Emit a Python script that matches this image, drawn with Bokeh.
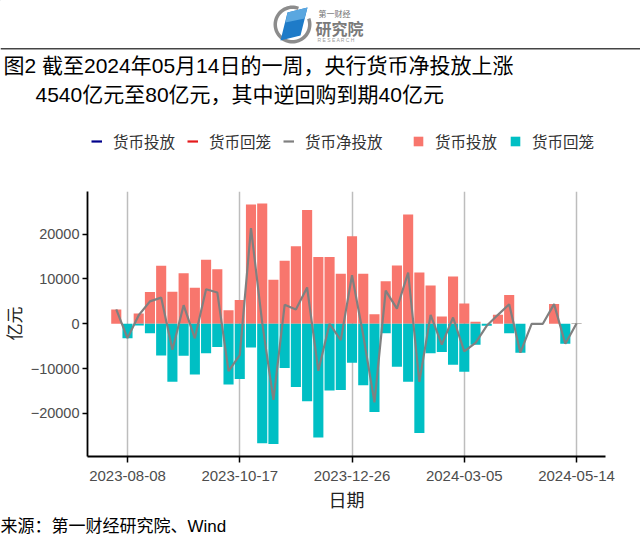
import math
import numpy as np
import pandas as pd
from bokeh.plotting import figure
from bokeh.layouts import column, row
from bokeh.models import (Range1d, FixedTicker, DatetimeTickFormatter, Label,
                          Legend, LegendItem, ColumnDataSource)
from bokeh.embed import file_html
from bokeh.resources import INLINE

# ---------------- data ----------------
weeks = ["2023-08-01", "2023-08-08", "2023-08-15", "2023-08-22", "2023-08-29",
         "2023-09-05", "2023-09-12", "2023-09-19", "2023-09-26", "2023-10-03",
         "2023-10-10", "2023-10-17", "2023-10-24", "2023-10-31", "2023-11-07",
         "2023-11-14", "2023-11-21", "2023-11-28", "2023-12-05", "2023-12-12",
         "2023-12-19", "2023-12-26", "2024-01-02", "2024-01-09", "2024-01-16",
         "2024-01-23", "2024-01-30", "2024-02-06", "2024-02-13", "2024-02-20",
         "2024-02-27", "2024-03-05", "2024-03-12", "2024-03-19", "2024-03-26",
         "2024-04-02", "2024-04-09", "2024-04-16", "2024-04-23", "2024-04-30",
         "2024-05-07", "2024-05-14"]
inject = [3200, 0, 2300, 7100, 12950, 7150, 11300, 8050, 14300, 12200,
          3000, 5300, 26650, 26850, 9850, 14100, 17300, 25400, 14900, 14900,
          11150, 19550, 11150, 2150, 9500, 13000, 24400, 11450, 8550, 1650,
          10550, 4550, 450, 0, 2000, 6450, 0, 0, 0, 4400, 0, 120]
withdraw = [0, -3200, -400, -2100, -7100, -12950, -7150, -11300, -6600, -5200,
            -13550, -12300, -5300, -26650, -26850, -9850, -14100, -17300, -25400, -14900,
            -14800, -8700, -13700, -19700, -2100, -9600, -12950, -24400, -6550, -6300,
            -9150, -10700, -4700, -450, 0, -2100, -6450, 0, 0, 0, -4460, -40]
net = [3200, -3200, 1900, 5000, 5850, -5800, 4150, -3250, 7700, 7000,
       -10550, -7000, 21350, 200, -17000, 4250, 3200, 8100, -10500, 0,
       -3650, 10850, -2550, -17550, 7400, 3400, 11450, -12950, 2000, -4650,
       1400, -6150, -4250, -450, 2000, 4350, -6450, 0, 0, 4400, -4460, 80]
tick_labels = ["2023-08-08", "2023-10-17", "2023-12-26", "2024-03-05", "2024-05-14"]
y_ticks = [-20000, -10000, 0, 10000, 20000]

title1 = "图2 截至2024年05月14日的一周，央行货币净投放上涨"
title2 = "4540亿元至80亿元，其中逆回购到期40亿元"
source_text = "来源：第一财经研究院、Wind"
legend_labels = ["货币投放", "货币回笼", "货币净投放"]
x_title, y_title = "日期", "亿元"

# ---------------- layout constants (page pixels) ----------------
W = 640
HEAD_B = 165          # header bottom
MAIN_B = 486          # main row bottom
PAGE_B = 546
YL_W = 25             # width of y-title strip
FL, FR, FT, FB = 87, 605, 191, 456        # frame edges of the chart
CJK = "Noto Sans CJK SC"
LAT = "Liberation Sans"
MIX = "Liberation Sans, Noto Sans CJK SC"
RED, CYAN, GREY = "#F8766D", "#00BFC4", "#808080"


def bare(w, h, xr, yr):
    f = figure(width=w, height=h, output_backend="svg", toolbar_location=None,
               x_range=xr, y_range=yr, x_axis_location=None, y_axis_location=None)
    f.min_border = 0
    f.min_border_left = f.min_border_right = f.min_border_top = f.min_border_bottom = 0
    f.outline_line_color = None
    f.xgrid.visible = False
    f.ygrid.visible = False
    f.frame_align = False
    return f


# ---------------- header (logo, rule, title, legend) ----------------
head = bare(W, HEAD_B, Range1d(0, W), Range1d(HEAD_B, 0))

cx, cy = 292, 24
th = np.linspace(math.radians(70), math.radians(380), 60)
ro, ri = 19, 15.5
ring_x = list(cx + ro * np.cos(th)) + list(cx + ri * np.cos(th[::-1]))
ring_y = list(cy - ro * np.sin(th)) + list(cy - ri * np.sin(th[::-1]))
head.patch(ring_x, ring_y, fill_color="#8C8C8C", line_color=None)
head.patch([287, 307, 300, 280], [12, 7, 35, 40], fill_color="#1E7BC8", line_color=None)
head.patch([287, 307, 304, 285], [12, 7, 18, 22], fill_color="#5AA7E0", line_color=None)
head.add_layout(Label(x=318, y=13, text="第一财经", text_font=CJK, text_font_size="8px",
                      text_color="#707070", text_baseline="middle"))
head.add_layout(Label(x=315, y=27, text="研究院", text_font=CJK, text_font_size="16px",
                      text_color="#7A7A7A", text_font_style="bold", text_baseline="middle"))
head.add_layout(Label(x=317, y=39, text="R E S E A R C H", text_font=LAT, text_font_size="5px",
                      text_color="#9A9A9A", text_baseline="middle"))

head.segment(x0=[0], y0=[48.3], x1=[W], y1=[48.3], line_color="#444444", line_width=1.6)

head.add_layout(Label(x=3, y=65, text=title1, text_font=MIX, text_font_size="21px",
                      text_color="#000000", text_baseline="middle"))
head.add_layout(Label(x=35, y=94, text=title2, text_font=MIX, text_font_size="21px",
                      text_color="#000000", text_baseline="middle"))

# legend keys (off-range dummy renderers so only their legend swatches show)
d_inj_line = head.line(x=[-50, -40], y=[-50, -50], line_color="#00008B", line_width=2.2)
d_wd_line = head.line(x=[-50, -40], y=[-50, -50], line_color="#E41A1C", line_width=2.2)
d_net_line = head.line(x=[-50, -40], y=[-50, -50], line_color=GREY, line_width=2.2)
d_inj_bar = head.vbar(x=[-50], top=[-50], bottom=[-60], width=1, fill_color=RED, line_color=None)
d_wd_bar = head.vbar(x=[-50], top=[-50], bottom=[-60], width=1, fill_color=CYAN, line_color=None)

leg1 = Legend(items=[LegendItem(label=legend_labels[0], renderers=[d_inj_line]),
                     LegendItem(label=legend_labels[1], renderers=[d_wd_line]),
                     LegendItem(label=legend_labels[2], renderers=[d_net_line])],
              orientation="horizontal", location=(91, HEAD_B - 152))
leg2 = Legend(items=[LegendItem(label=legend_labels[0], renderers=[d_inj_bar]),
                     LegendItem(label=legend_labels[1], renderers=[d_wd_bar])],
              orientation="horizontal", location=(412, HEAD_B - 152))
for lg, gw in ((leg1, 11), (leg2, 12)):
    lg.glyph_width = gw
    lg.glyph_height = 12
    lg.label_standoff = 11
    lg.spacing = 12
    lg.padding = 0
    lg.margin = 0
    lg.border_line_color = None
    lg.background_fill_alpha = 0
    lg.label_text_font = CJK
    lg.label_text_font_size = "15.5px"
    lg.label_text_color = "#333333"
    lg.label_height = 18
    head.add_layout(lg)

# ---------------- y title strip ----------------
ylab = bare(YL_W, MAIN_B - HEAD_B, Range1d(0, YL_W), Range1d(MAIN_B, HEAD_B))
ylab.add_layout(Label(x=12.5, y=323, text=y_title, text_font=CJK, text_font_size="17px",
                      text_color="#222222", text_align="center", text_baseline="middle",
                      angle=math.pi / 2))

# ---------------- main chart ----------------
dates = pd.to_datetime(weeks)
src = ColumnDataSource(dict(x=dates, inj=inject, wd=withdraw, net=net))

p = figure(width=W - YL_W, height=MAIN_B - HEAD_B, output_backend="svg",
           toolbar_location=None, x_axis_type="datetime",
           x_range=Range1d(pd.Timestamp("2023-07-14 01:26"), pd.Timestamp("2024-06-01 01:26")),
           y_range=Range1d(-29620, 29530))
p.frame_align = False
p.min_border_left = FL - YL_W
p.min_border_right = W - FR
p.min_border_top = FT - HEAD_B
p.min_border_bottom = MAIN_B - FB
p.outline_line_color = None

bw = 6.3 * 24 * 3600 * 1000
p.vbar(x="x", top="inj", bottom=0, width=bw, source=src, fill_color=RED, line_color=None)
p.vbar(x="x", top=0, bottom="wd", width=bw, source=src, fill_color=CYAN, line_color=None)
p.line(x="x", y="net", source=src, line_color=GREY, line_width=2.2)

p.xaxis.ticker = FixedTicker(ticks=[pd.Timestamp(t).value / 1e6 for t in tick_labels])
fmt = "%Y-%m-%d"
p.xaxis.formatter = DatetimeTickFormatter(days=fmt, months=fmt, years=fmt, hours=fmt)
p.yaxis.ticker = FixedTicker(ticks=y_ticks)
for ax in (p.xaxis[0], p.yaxis[0]):
    ax.axis_line_color = "black"
    ax.axis_line_width = 1.8
    ax.major_tick_line_color = "black"
    ax.major_tick_line_width = 1.5
    ax.major_tick_out = 6
    ax.major_tick_in = 0
    ax.minor_tick_line_color = None
    ax.major_label_text_font = LAT
    ax.major_label_text_font_size = "15px"
    ax.major_label_text_color = "#4D4D4D"
p.xaxis.major_label_standoff = 8
p.yaxis.major_tick_out = 5
p.yaxis.major_label_standoff = 3
p.yaxis.major_label_text_font_size = "14.5px"

p.xgrid.grid_line_color = "#BDBDBD"
p.xgrid.grid_line_width = 1.5
p.ygrid.grid_line_color = None

# ---------------- footer (x title, source) ----------------
foot = bare(W, PAGE_B - MAIN_B, Range1d(0, W), Range1d(PAGE_B, MAIN_B))
foot.add_layout(Label(x=346, y=498, text=x_title, text_font=CJK, text_font_size="18px",
                      text_color="#222222", text_align="center", text_baseline="middle"))
foot.add_layout(Label(x=0, y=526, text=source_text, text_font=MIX, text_font_size="17px",
                      text_color="#000000", text_baseline="middle"))

layout = column(head, row(ylab, p, spacing=0), foot, spacing=0)
open("out.html", "w").write(file_html(layout, INLINE))
